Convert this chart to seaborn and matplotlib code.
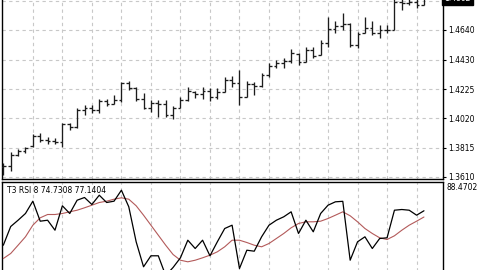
import numpy as np
import pandas as pd
import matplotlib
matplotlib.use("Agg")
import matplotlib.pyplot as plt
import seaborn as sns

# ---------------- data ----------------
opens = [1.3680, 1.3687, 1.3764, 1.3792, 1.3827, 1.3897, 1.3869, 1.3862, 1.3855, 1.3981,
         1.3960, 1.4079, 1.4093, 1.4079, 1.4142, 1.4121, 1.4149, 1.4268, 1.4233, 1.4156,
         1.4093, 1.4128, 1.4121, 1.4044, 1.4093, 1.4149, 1.4205, 1.4191, 1.4212, 1.4170,
         1.4205, 1.4289, 1.4268, 1.4170, 1.4261, 1.4247, 1.4324, 1.4388, 1.4409, 1.4423,
         1.4472, 1.4416, 1.4500, 1.4465, 1.4549, 1.4647, 1.4668, 1.4682, 1.4535, 1.4619,
         1.4654, 1.4619, 1.4640, 1.4640, 1.4836, 1.4829, 1.4836, 1.4815]
highs = [1.3708, 1.3785, 1.3806, 1.3820, 1.3911, 1.3918, 1.3890, 1.3883, 1.3988, 1.3988,
         1.4093, 1.4114, 1.4114, 1.4156, 1.4156, 1.4184, 1.4275, 1.4282, 1.4240, 1.4198,
         1.4149, 1.4149, 1.4149, 1.4107, 1.4170, 1.4240, 1.4212, 1.4240, 1.4233, 1.4233,
         1.4310, 1.4317, 1.4360, 1.4282, 1.4275, 1.4338, 1.4409, 1.4430, 1.4444, 1.4507,
         1.4479, 1.4521, 1.4521, 1.4570, 1.4731, 1.4703, 1.4759, 1.4689, 1.4626, 1.4731,
         1.4703, 1.4675, 1.4675, 1.4864, 1.4871, 1.4878, 1.4864, 1.4871]
lows = [1.3624, 1.3652, 1.3757, 1.3778, 1.3820, 1.3855, 1.3841, 1.3841, 1.3820, 1.3939,
        1.3953, 1.4044, 1.4058, 1.4058, 1.4107, 1.4121, 1.4135, 1.4219, 1.4142, 1.4086,
        1.4065, 1.4030, 1.4030, 1.4016, 1.4093, 1.4142, 1.4163, 1.4156, 1.4142, 1.4156,
        1.4205, 1.4240, 1.4114, 1.4170, 1.4184, 1.4240, 1.4310, 1.4374, 1.4374, 1.4409,
        1.4395, 1.4416, 1.4444, 1.4465, 1.4521, 1.4619, 1.4640, 1.4521, 1.4514, 1.4619,
        1.4605, 1.4584, 1.4619, 1.4640, 1.4780, 1.4815, 1.4794, 1.4815]
closes = [1.3687, 1.3764, 1.3792, 1.3813, 1.3897, 1.3869, 1.3862, 1.3855, 1.3981, 1.3960,
          1.4079, 1.4093, 1.4079, 1.4142, 1.4121, 1.4149, 1.4268, 1.4233, 1.4156, 1.4093,
          1.4128, 1.4121, 1.4044, 1.4093, 1.4149, 1.4212, 1.4191, 1.4212, 1.4170, 1.4205,
          1.4289, 1.4268, 1.4170, 1.4261, 1.4247, 1.4324, 1.4388, 1.4409, 1.4423, 1.4479,
          1.4416, 1.4500, 1.4458, 1.4549, 1.4647, 1.4668, 1.4682, 1.4535, 1.4612, 1.4654,
          1.4619, 1.4640, 1.4640, 1.4836, 1.4829, 1.4836, 1.4815, 1.4862]

t3_rsi = [63.82, 71.05, 73.49, 76.09, 80.85, 73.11, 73.49, 69.62, 79.07, 76.09,
          81.23, 82.28, 79.57, 83.17, 80.34, 80.85, 85.10, 78.68, 65.13, 55.46,
          59.72, 59.72, 52.09, 55.19, 58.94, 65.75, 62.54, 65.75, 59.72, 65.13,
          70.28, 71.56, 54.80, 61.88, 61.50, 67.07, 71.56, 73.49, 74.81, 76.74,
          68.35, 73.49, 69.00, 76.09, 79.30, 80.61, 80.80, 58.01, 65.13, 67.07,
          62.54, 66.41, 66.68, 77.36, 77.63, 77.36, 75.43, 77.14]
t3_signal = [58.67, 60.61, 63.82, 67.07, 71.56, 74.42, 75.70, 75.70, 76.09, 76.74,
             77.36, 78.29, 79.30, 80.34, 80.85, 81.62, 82.16, 81.62, 79.07, 75.43,
             71.56, 67.69, 63.82, 60.22, 58.01, 57.39, 58.01, 58.94, 59.95, 61.26,
             63.20, 65.75, 65.75, 64.86, 63.82, 63.20, 64.48, 66.41, 68.35, 70.55,
             72.22, 72.87, 72.87, 73.11, 74.15, 75.43, 76.74, 75.20, 72.87, 70.28,
             68.35, 66.68, 66.02, 67.46, 69.62, 71.56, 73.11, 74.73]

price_ticks = [1.3610, 1.3815, 1.4020, 1.4225, 1.4430, 1.4640, 1.4845]
price_labels = ["1.3610", "1.3815", "1.4020", "1.4225", "1.4430", "1.4640", ""]
indicator_title = "T3 RSI 8 74.7308 77.1404"
indicator_max = "88.4702"

# ---------------- style ----------------
sns.set_style("white")
plt.rcParams["font.family"] = ["DejaVu Sans"]

W, H = 480, 270
fig = plt.figure(figsize=(4.8, 2.7), dpi=100)
fig.patch.set_facecolor("white")

idx = np.arange(len(closes))
df = pd.DataFrame({"i": idx, "o": opens, "h": highs, "l": lows, "c": closes,
                   "rsi": t3_rsi, "sig": t3_signal})

xl = (-0.18, 59.58)
grid_kw = dict(color="#c8c8c8", linestyle=(0, (3, 3)), linewidth=0.8)
vgrid = np.arange(4, 57, 4)

# main panel (top extends above the figure)
ax = fig.add_axes([2 / W, 91 / H, 441 / W, (275 - 91) / H])
ax.set_xlim(*xl)
ax.set_ylim(1.35957, 1.48850)
for g in vgrid:
    ax.axvline(g, zorder=0, **grid_kw)
for p in price_ticks:
    ax.axhline(p, zorder=0, **grid_kw)

bar_col = "#1c1c1c"
ax.vlines(df["i"], df["l"], df["h"], color=bar_col, linewidth=0.95, zorder=3)
ax.hlines(df["o"], df["i"] - 0.38, df["i"], color=bar_col, linewidth=0.95, zorder=3)
ax.hlines(df["c"], df["i"], df["i"] + 0.38, color=bar_col, linewidth=0.95, zorder=3)

ax.yaxis.tick_right()
ax.set_yticks(price_ticks)
ax.set_yticklabels(price_labels)
ax.tick_params(axis="y", which="both", direction="out", length=2, width=0.8,
               pad=2, labelsize=5.5, colors="#000000", right=True, left=False)
ax.set_xticks([])
for s in ax.spines.values():
    s.set_color("black")
    s.set_linewidth(1.0)

# current price label (mostly above the visible area, like the reference)
ax.text(1.003, closes[-1], f"{closes[-1]:.4f}", transform=ax.get_yaxis_transform(),
        ha="left", va="center", fontsize=5.5, color="white",
        bbox=dict(boxstyle="square,pad=0.3", fc="black", ec="black"),
        clip_on=False, zorder=10)

# indicator panel (bottom extends below the figure)
ax2 = fig.add_axes([2 / W, -30 / H, 441 / W, (88.5 + 30) / H])
ax2.set_xlim(*xl)
ax2.set_ylim(42.61, 88.4702)
for g in vgrid:
    ax2.axvline(g, zorder=0, **grid_kw)
sns.lineplot(data=df, x="i", y="sig", ax=ax2, color="#b35a5a", linewidth=0.8, zorder=3)
sns.lineplot(data=df, x="i", y="rsi", ax=ax2, color="#000000", linewidth=0.9, zorder=4)
ax2.set_xlabel("")
ax2.set_ylabel("")
ax2.set_xticks([])
ax2.set_yticks([])
for s in ax2.spines.values():
    s.set_color("black")
    s.set_linewidth(1.0)
ax2.text(0.012, 0.965, indicator_title, transform=ax2.transAxes, ha="left", va="top",
         fontsize=5.5, color="black")
ax2.text(1.008, 0.985, indicator_max, transform=ax2.transAxes, ha="left", va="top",
         fontsize=5.5, color="black", clip_on=False)

fig.savefig("out.png", dpi=100)
